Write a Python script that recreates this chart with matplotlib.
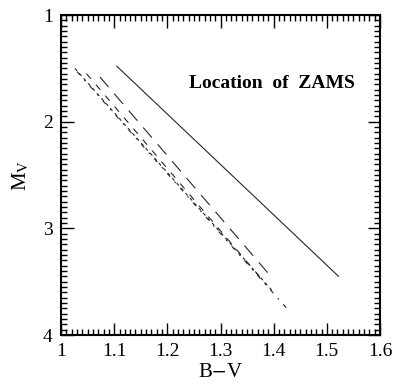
import matplotlib
matplotlib.use("Agg")
import matplotlib.pyplot as plt
from matplotlib.ticker import MultipleLocator

# ZAMS loci in the colour-magnitude plane (B-V, Mv)
solid_bv = [1.105, 1.522]
solid_mv = [1.48, 3.45]

longdash_bv = [1.073, 1.398]
longdash_mv = [1.58, 3.47]

middash_bv = [1.048, 1.385]
middash_mv = [1.55, 3.52]

shortdash_bv = [1.026, 1.400]
shortdash_mv = [1.50, 3.60]

dashdot_bv = [1.030, 1.430]
dashdot_mv = [1.53, 3.78]

xticks = [1.0, 1.1, 1.2, 1.3, 1.4, 1.5, 1.6]
xticklabels = ["1", "1.1", "1.2", "1.3", "1.4", "1.5", "1.6"]
yticks = [1, 2, 3, 4]

plt.rcParams["font.family"] = "Liberation Serif"
plt.rcParams["mathtext.fontset"] = "stix"

fig = plt.figure(figsize=(3.97, 3.91), dpi=100)
ax = fig.add_axes([0.1537, 0.1432, 0.8035, 0.8184])

ink = "0.15"
ax.plot(solid_bv, solid_mv, color=ink, lw=0.8)
ax.plot(longdash_bv, longdash_mv, color=ink, lw=0.8, dashes=(12, 8))
ax.plot(middash_bv, middash_mv, color=ink, lw=0.8, dashes=(6, 7))
ax.plot(shortdash_bv, shortdash_mv, color=ink, lw=0.8, dashes=(3, 3))
ax.plot(dashdot_bv, dashdot_mv, color=ink, lw=0.8, dashes=(4, 6, 1.5, 6))

ax.set_xlim(1.0, 1.6)
ax.set_ylim(4, 1)

ax.set_xticks(xticks)
ax.set_xticklabels(xticklabels)
ax.set_yticks(yticks)
ax.xaxis.set_minor_locator(MultipleLocator(0.01))
ax.yaxis.set_minor_locator(MultipleLocator(0.05))

ax.tick_params(which="both", direction="in", top=True, right=True,
               labelsize=14, width=1.0, pad=6)
ax.tick_params(which="major", length=9)
ax.tick_params(which="minor", length=4.5)
for s in ax.spines.values():
    s.set_linewidth(1.5)

ax.set_xlabel("B$-$V", fontsize=15, labelpad=2)
ax.set_ylabel(r"M$_\mathrm{V}$", fontsize=15, labelpad=8)

ax.text(1.396, 1.64, "Location  of  ZAMS", fontsize=14, fontweight="bold",
        ha="center", va="center")

fig.savefig("out.png", dpi=100)
